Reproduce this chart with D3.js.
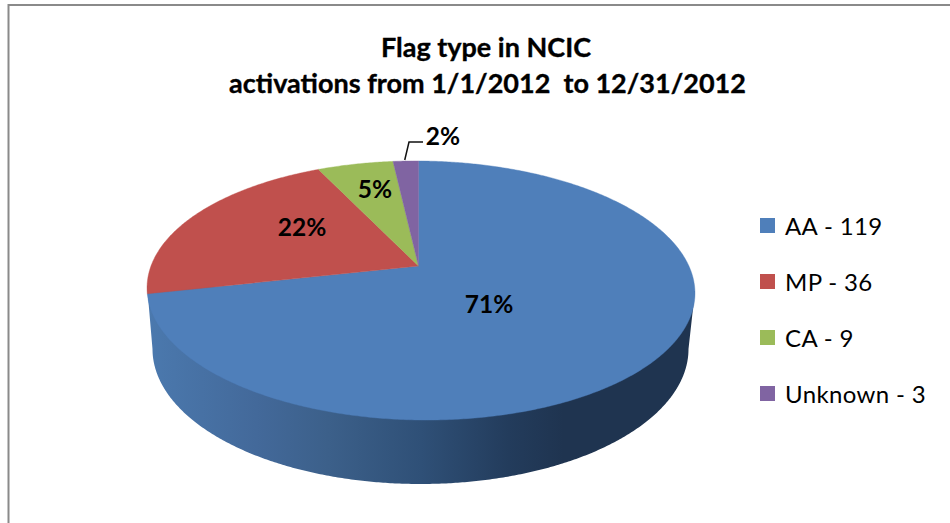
<!DOCTYPE html>
<html><head><meta charset="utf-8">
<script src="https://cdnjs.cloudflare.com/ajax/libs/d3/7.8.5/d3.min.js"></script>
<style>html,body{margin:0;padding:0;background:#fff}svg{display:block}text{font-family:Lato,"Noto Sans",sans-serif;fill:#000}</style>
</head><body><svg id="c" width="950" height="523"></svg>
<script>
const categories = ["AA", "MP", "CA", "Unknown"];
const values = [119, 36, 9, 3];
const percentLabels = ["71%", "22%", "5%", "2%"];
const colors = ["#4F7FBA", "#C0504D", "#9BBB59", "#8064A2"];
const titleLines = ["Flag type in NCIC", "activations from 1/1/2012  to 12/31/2012"];

const svg = d3.select("#c");
const W = 950, H = 523;

// frame
svg.append("path").attr("d", `M8.5 ${H}V5H${W}`).attr("fill", "none").attr("stroke", "#8a8a8a").attr("stroke-width", 2);

// Perspective projection of the unit pie disc onto the page
const apex = [418.5, 266], k = 0.189, m = 0.009, tilt = 74.6, bx = 269;
function project(a) {
  const u = Math.sin(a), v = Math.cos(a), w = 1 + k * v - m * u;
  return [apex[0] + bx * u / w, (apex[1] - tilt * v) / w];
}
const line = d3.line();
const step = Math.PI / 360;

// side wall: from the rim's widest points down round a lower ellipse (hidden top edge runs under the face)
const base = { cx: 420.5, cy: 349, rx: 268, ry: 135 };
const rimLeft = project(Math.PI * 260 / 180), rimRight = project(Math.PI * 100 / 180);
const ts = d3.range(0, Math.PI + step / 2, step);
const wallPts = [rimRight, rimLeft].concat(ts.map(t => [base.cx - base.rx * Math.cos(t), base.cy + base.ry * Math.sin(t)]));
const grad = svg.append("defs").append("linearGradient").attr("id", "wall")
  .attr("gradientUnits", "userSpaceOnUse").attr("x1", 147).attr("x2", 695).attr("y1", 0).attr("y2", 0);
[[0, "#4B79AE"], [0.2, "#43699A"], [0.33, "#3C608A"], [0.5, "#2F5077"], [0.66, "#233C5C"], [0.76, "#1F3450"], [1, "#1F3450"]]
  .forEach(s => grad.append("stop").attr("offset", s[0]).attr("stop-color", s[1]));
svg.append("path").attr("d", line(wallPts) + "Z").attr("fill", "url(#wall)");

// top face
const pie = d3.pie().sort(null).startAngle(0).endAngle(2 * Math.PI);
const arcs = pie(values);
svg.selectAll("path.slice").data(arcs).enter().append("path").attr("class", "slice")
  .attr("fill", (d, i) => colors[i])
  .attr("stroke", (d, i) => colors[i]).attr("stroke-width", 0.4)
  .attr("d", d => {
    const n = Math.max(2, Math.ceil((d.endAngle - d.startAngle) / step));
    const pts = d3.range(n + 1).map(i => project(d.startAngle + (d.endAngle - d.startAngle) * i / n));
    return line([apex, ...pts]) + "Z";
  });

// leader line for the smallest slice
const uMid = project((arcs[3].startAngle + arcs[3].endAngle) / 2);
svg.append("path").attr("d", line([[uMid[0] - 1, uMid[1] - 1], [409, 142], [423, 142]]))
  .attr("fill", "none").attr("stroke", "#111").attr("stroke-width", 1.5);

// percentage labels
const labelPos = [[489, 313], [302, 236], [375, 198], [443, 145]];
svg.selectAll("text.pct").data(percentLabels).enter().append("text").attr("class", "pct")
  .attr("x", (d, i) => labelPos[i][0]).attr("y", (d, i) => labelPos[i][1])
  .attr("text-anchor", "middle").attr("font-size", 24.5).attr("font-weight", 700).text(d => d);

// title
const titleBase = [57, 93];
svg.selectAll("text.title").data(titleLines).enter().append("text").attr("class", "title")
  .attr("x", (d, i) => i ? 487.5 : 486).attr("y", (d, i) => titleBase[i])
  .attr("text-anchor", "middle").attr("font-size", 27).attr("font-weight", 700)
  .attr("stroke", "#000").attr("stroke-width", 0.35)
  .style("white-space", "pre").text(d => d);

// legend
const legendY = d3.scalePoint().domain(categories).range([218, 386]);
const lg = svg.selectAll("g.lg").data(categories).enter().append("g").attr("class", "lg");
lg.append("rect").attr("x", 760).attr("y", d => legendY(d)).attr("width", 15).attr("height", 15)
  .attr("fill", (d, i) => colors[i]);
lg.append("text").attr("x", 785).attr("y", d => legendY(d) + 17).attr("font-size", 24)
  .style("letter-spacing", "0.35px").text((d, i) => `${d} - ${values[i]}`);
</script></body></html>
